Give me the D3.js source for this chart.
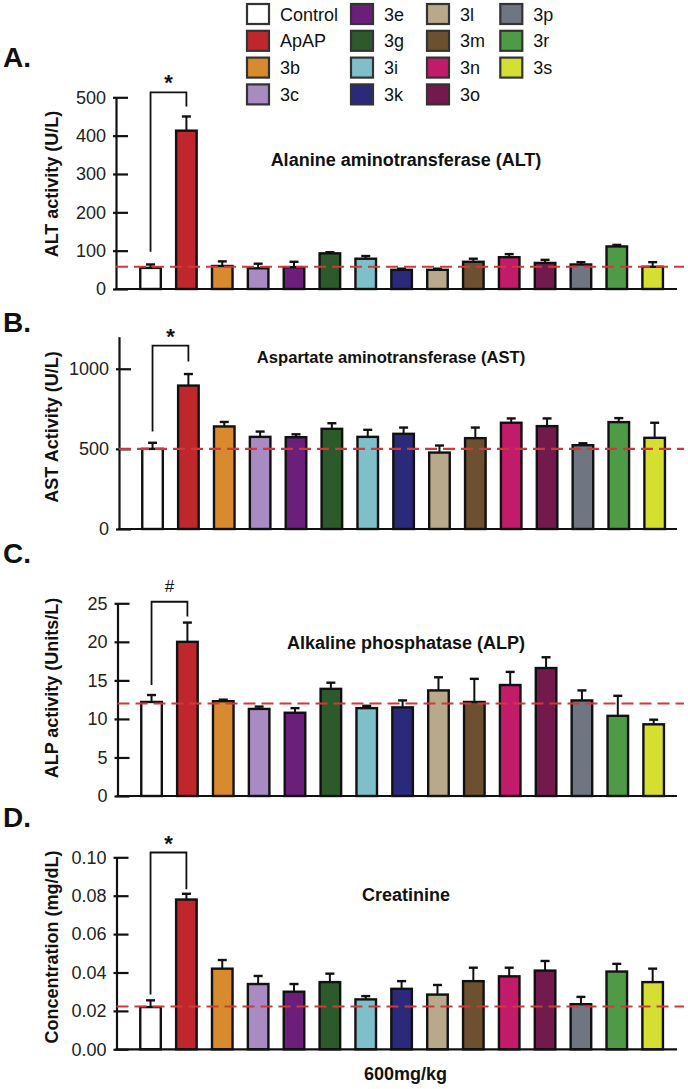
<!DOCTYPE html>
<html><head><meta charset="utf-8">
<script src="https://cdn.jsdelivr.net/npm/d3@7"></script>
<style>
html,body{margin:0;padding:0;background:#fff;}
svg{display:block;font-family:"Liberation Sans",Arial,Helvetica,sans-serif;}
</style></head>
<body>
<svg id="chart" width="688" height="1089"></svg>
<script>
// ---------- data ----------
const groups = ["Control","ApAP","3b","3c","3e","3g","3i","3k","3l","3m","3n","3o","3p","3r","3s"];
const groupColors = ["#ffffff","#c0272d","#d88a2e","#a88bc2","#6c1f7a","#2d5a2b","#7fbfc9","#2b2a7a","#b9a98b","#6c5030","#c21b6a","#731a4d","#6f7681","#4e9a47","#d4df31"];

const altMean = [55,413,60,54,57,93,79,50,50,71,83,68,64,111,58];
const altErr  = [9,37,12,12,14,3,7,3,3,8,8,8,6,4,12];
const altTicks = [0,100,200,300,400,500];

const astMean = [500,895,640,575,573,625,575,594,477,567,663,642,523,667,569];
const astErr  = [38,72,28,33,18,35,44,39,44,66,27,48,12,25,94];
const astTicks = [0,500,1000];

const alpMean = [12.2,20.0,12.3,11.3,10.8,13.9,11.4,11.5,13.7,12.2,14.4,16.6,12.4,10.4,9.3];
const alpErr  = [0.9,2.5,0.2,0.3,0.6,0.8,0.3,0.9,1.7,3.0,1.7,1.4,1.3,2.6,0.6];
const alpTicks = [0,5,10,15,20,25];

const creMean = [0.022,0.078,0.042,0.034,0.030,0.035,0.026,0.0315,0.0285,0.0355,0.038,0.041,0.0235,0.0405,0.035];
const creErr  = [0.0035,0.003,0.0045,0.0042,0.004,0.0044,0.0017,0.004,0.005,0.007,0.0045,0.005,0.0038,0.004,0.007];
const creTicks = [0,0.02,0.04,0.06,0.08,0.10];

const refLines = [58, 500, 12, 0.0223];           // dashed reference level per panel
const yMax = [500, 1200, 25, 0.10];
const panelLetters = ["A.","B.","C.","D."];
const panelTitles = ["Alanine aminotransferase (ALT)","Aspartate aminotransferase (AST)","Alkaline phosphatase (ALP)","Creatinine"];
const yLabels = ["ALT activity (U/L)","AST Activity (U/L)","ALP activity (Units/L)","Concentration (mg/dL)"];
const sigMarks = ["*","*","#","*"];
// bracket: [left leg bottom, top, right leg bottom] in data units
const brackets = [[97,513,476],[608,1144,1046],[14.4,25.2,23.3],[0.0286,0.1025,0.0833]];
const xLabel = "600mg/kg";

// ---------- layout ----------
const svg = d3.select("#chart");
const font = "\"Liberation Sans\",Arial,Helvetica,sans-serif";
const panels = [
  {axisX:116, y0:289,   y1:97.3,  mean:altMean, err:altErr, ticks:altTicks, fmt:d3.format("d"),   letterY:67,  titleX:406, titleY:166, titleSize:18,   labelY:184, xoff:0},
  {axisX:119, y0:529,   y1:336.7, mean:astMean, err:astErr, ticks:astTicks, fmt:d3.format("d"),   letterY:332, titleX:391, titleY:363, titleSize:16.6, labelY:427, xoff:2},
  {axisX:117.5,y0:796,  y1:603.3, mean:alpMean, err:alpErr, ticks:alpTicks, fmt:d3.format("d"),   letterY:563, titleX:406, titleY:649, titleSize:18,   labelY:688, xoff:1},
  {axisX:116.5,y0:1049.3,y1:857.3,mean:creMean, err:creErr, ticks:creTicks, fmt:d3.format(".2f"), letterY:827, titleX:406, titleY:901, titleSize:18,   labelY:947, xoff:0}
];

panels.forEach((p, i) => {
  const x = d3.scaleBand().domain(groups)
      .range([132.6 + p.xoff, 670.6 + p.xoff]).paddingInner(0.36).paddingOuter(0.18);
  const y = d3.scaleLinear().domain([0, yMax[i]]).range([p.y0, p.y1]);
  const g = svg.append("g");

  // panel letter
  g.append("text").attr("x", 3).attr("y", p.letterY)
    .attr("font-size", 28).attr("font-weight", "bold").attr("fill", "#111").text(panelLetters[i]);

  // y axis label
  g.append("text").attr("transform", `translate(58,${p.labelY}) rotate(-90)`)
    .attr("text-anchor", "middle").attr("font-size", 18).attr("font-weight", "bold")
    .attr("fill", "#111").text(yLabels[i]);

  // title
  g.append("text").attr("x", p.titleX).attr("y", p.titleY).attr("text-anchor", "middle")
    .attr("font-size", p.titleSize).attr("font-weight", "bold").attr("fill", "#111").text(panelTitles[i]);

  // bars
  const sw = 2.4;
  g.selectAll("rect.bar").data(groups).join("rect").attr("class", "bar")
    .attr("x", d => x(d) + sw/2).attr("width", x.bandwidth() - sw)
    .attr("y", (d, k) => y(p.mean[k])).attr("height", (d, k) => y(0) - y(p.mean[k]))
    .attr("fill", (d, k) => groupColors[k]).attr("stroke", "#111").attr("stroke-width", sw);

  // error bars (upper)
  const eg = g.selectAll("g.err").data(groups).join("g").attr("class", "err");
  eg.append("line")
    .attr("x1", d => x(d) + x.bandwidth()/2).attr("x2", d => x(d) + x.bandwidth()/2)
    .attr("y1", (d, k) => y(p.mean[k])).attr("y2", (d, k) => y(p.mean[k] + p.err[k]))
    .attr("stroke", "#111").attr("stroke-width", 2);
  eg.append("line")
    .attr("x1", d => x(d) + x.bandwidth()/2 - 4.5).attr("x2", d => x(d) + x.bandwidth()/2 + 4.5)
    .attr("y1", (d, k) => y(p.mean[k] + p.err[k])).attr("y2", (d, k) => y(p.mean[k] + p.err[k]))
    .attr("stroke", "#111").attr("stroke-width", 2.4);

  // y axis
  const ax = g.append("g").attr("transform", `translate(${p.axisX},0)`)
    .call(d3.axisLeft(y).tickValues(p.ticks).tickFormat(p.fmt)
      .tickSizeInner(-12).tickSizeOuter(0).tickPadding(10));
  ax.select(".domain").attr("stroke", "#111").attr("stroke-width", 2.2);
  ax.selectAll(".tick line").attr("x1", -3).attr("stroke", "#111").attr("stroke-width", 2.2);
  ax.selectAll(".tick text").attr("font-size", 18).attr("font-family", font).attr("fill", "#222");

  // x axis line
  g.append("line").attr("x1", p.axisX - 1).attr("x2", 677).attr("y1", y(0)).attr("y2", y(0))
    .attr("stroke", "#111").attr("stroke-width", 2.2);

  // reference dashed line
  g.append("line").attr("x1", p.axisX).attr("x2", 684)
    .attr("y1", y(refLines[i])).attr("y2", y(refLines[i]))
    .attr("stroke", "#d2383a").attr("stroke-width", 2.2).attr("stroke-dasharray", "12,6");

  // significance bracket
  const b = brackets[i];
  const xl = x(groups[0]) + x.bandwidth()/2, xr = x(groups[1]) + x.bandwidth()/2;
  g.append("path")
    .attr("d", `M${xl},${y(b[0])}V${y(b[1])}H${xr}V${y(b[2])}`)
    .attr("fill", "none").attr("stroke", "#111").attr("stroke-width", 1.8);
  g.append("text").attr("x", (xl + xr)/2).attr("y", y(b[1]) - (sigMarks[i] === "#" ? 10 : 2))
    .attr("text-anchor", "middle")
    .attr("font-size", sigMarks[i] === "#" ? 17 : 22)
    .attr("font-weight", sigMarks[i] === "#" ? "normal" : "bold")
    .attr("fill", "#111").text(sigMarks[i]);
});

// x label
svg.append("text").attr("x", 405.5).attr("y", 1080).attr("text-anchor", "middle")
  .attr("font-size", 18).attr("font-weight", "bold").attr("fill", "#111").text(xLabel);

// legend (column-major, 4 rows)
const legColX = [246, 350, 426, 499.3];
const legG = svg.append("g");
groups.forEach((name, k) => {
  const col = Math.floor(k / 4), row = k % 4;
  const ty = 3 + row * 26.8;
  legG.append("rect").attr("x", legColX[col] + 1).attr("y", ty + 1).attr("width", 22).attr("height", 20)
    .attr("fill", groupColors[k]).attr("stroke", "#333").attr("stroke-width", 2.2);
  legG.append("text").attr("x", legColX[col] + 34).attr("y", ty + 17.5)
    .attr("font-size", 18).attr("fill", "#111").text(name);
});
</script>
</body></html>
